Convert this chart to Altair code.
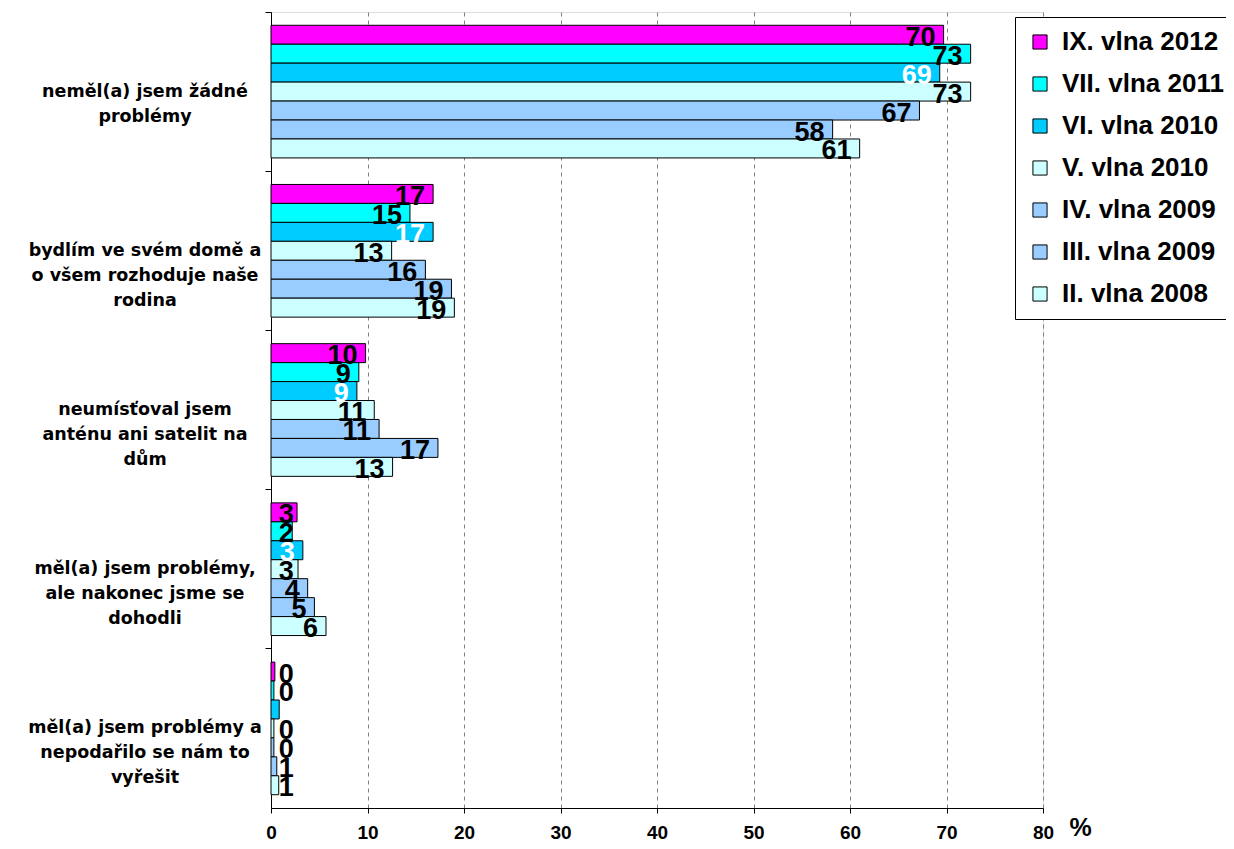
import altair as alt
import pandas as pd

categories = [
    "neměl(a) jsem žádné\nproblémy",
    "bydlím ve svém domě a\no všem rozhoduje naše\nrodina",
    "neumísťoval jsem\nanténu ani satelit na\ndům",
    "měl(a) jsem problémy,\nale nakonec jsme se\ndohodli",
    "měl(a) jsem problémy a\nnepodařilo se nám to\nvyřešit",
]

series = ["IX. vlna 2012", "VII. vlna 2011", "VI. vlna 2010", "V. vlna 2010",
          "IV. vlna 2009", "III. vlna 2009", "II. vlna 2008"]
colors = ["#FF00FF", "#00FFFF", "#00CCFF", "#CCFFFF", "#99CCFF", "#99CCFF", "#CCFFFF"]

# bar lengths (%) per series, one per category
ix_2012 = [69.7, 16.8, 9.8, 2.7, 0.4]
vii_2011 = [72.5, 14.4, 9.1, 2.2, 0.3]
vi_2010 = [69.3, 16.8, 8.9, 3.3, 0.85]
v_2010 = [72.5, 12.5, 10.7, 2.8, 0.3]
iv_2009 = [67.2, 16.0, 11.2, 3.8, 0.3]
iii_2009 = [58.2, 18.7, 17.3, 4.5, 0.6]
ii_2008 = [61.0, 19.0, 12.6, 5.7, 0.8]

# printed labels
ix_lab = ["70", "17", "10", "3", "0"]
vii_lab = ["73", "15", "9", "2", "0"]
vi_lab = ["69", "17", "9", "3", "1"]
v_lab = ["73", "13", "11", "3", "0"]
iv_lab = ["67", "16", "11", "4", "0"]
iii_lab = ["58", "19", "17", "5", "1"]
ii_lab = ["61", "19", "13", "6", "1"]

x_ticks = [0, 10, 20, 30, 40, 50, 60, 70, 80]

values = [ix_2012, vii_2011, vi_2010, v_2010, iv_2009, iii_2009, ii_2008]
labels = [ix_lab, vii_lab, vi_lab, v_lab, iv_lab, iii_lab, ii_lab]

rows = []
for s, vals, labs in zip(series, values, labels):
    for c, v, l in zip(categories, vals, labs):
        rows.append({"category": c, "series": s, "value": v, "label": l})
df = pd.DataFrame(rows)
cat_df = pd.DataFrame({"category": categories})

FONT = "Liberation Sans"

y_enc = alt.Y("category:N", sort=categories,
              scale=alt.Scale(paddingInner=0, paddingOuter=0),
              axis=alt.Axis(labels=False, title=None, bandPosition=0, tickSize=6,
                            tickColor="black", domainColor="black", grid=False))
yoff_enc = alt.YOffset("series:N", sort=series,
                       scale=alt.Scale(domain=series, paddingInner=0, paddingOuter=0.7))
x_scale = alt.Scale(domain=[0, 80], nice=False)

bars = alt.Chart(df).mark_bar(stroke="black", strokeWidth=1, opacity=1).encode(
    x=alt.X("value:Q", scale=x_scale,
            axis=alt.Axis(values=x_ticks, title="%", grid=True, gridDash=[4, 4],
                          gridColor="#808080", gridWidth=1, domainColor="black",
                          tickColor="black", tickSize=5, labelFont=FONT,
                          labelFontWeight="bold", labelFontSize=19, labelColor="black",
                          labelPadding=10, labelFlush=False,
                          titleFont=FONT, titleFontWeight="bold", titleFontSize=25,
                          titleColor="black", titleX=809, titleY=19,
                          titleBaseline="middle", titleAlign="center")),
    y=y_enc,
    yOffset=yoff_enc,
    color=alt.Color("series:N", sort=series,
                    scale=alt.Scale(domain=series, range=colors),
                    legend=alt.Legend(orient="none", legendX=744, legendY=5, title=None,
                                      labelFont=FONT, labelFontWeight="bold",
                                      labelFontSize=26, labelColor="black",
                                      symbolType="square", symbolSize=200,
                                      symbolStrokeColor="black", symbolStrokeWidth=1,
                                      symbolOpacity=1,
                                      strokeColor="black", fillColor="white",
                                      padding=12, rowPadding=16, labelOffset=9,
                                      labelLimit=400)),
)

texts = alt.Chart(df).transform_calculate(
    lx="max(datum.value, 3.2)"
).mark_text(align="right", baseline="middle", dx=-8, dy=3, font=FONT,
            fontWeight="bold", fontSize=27).encode(
    x=alt.X("lx:Q", scale=x_scale),
    y=alt.Y("category:N", sort=categories),
    yOffset=alt.YOffset("series:N", sort=series),
    text="label:N",
    color=alt.condition(alt.datum.series == "VI. vlna 2010",
                        alt.value("white"), alt.value("black")),
)

cat_text = alt.Chart(cat_df).mark_text(
    align="center", baseline="middle", lineBreak="\n", font="DejaVu Sans",
    fontWeight="bold", fontSize=17.5, lineHeight=25, color="black"
).encode(
    y=alt.Y("category:N", sort=categories),
    x=alt.value(-126),
    text="category:N",
)

chart = alt.layer(bars, texts, cat_text).properties(
    width=772, height=796,
    autosize=alt.AutoSizeParams(type="none"),
    padding={"left": 263, "top": 4, "right": 183, "bottom": 33},
).configure_view(
    stroke="black", strokeWidth=1
).configure(background="white")

chart.save("out.html", embed_options={"renderer": "svg", "actions": False})
